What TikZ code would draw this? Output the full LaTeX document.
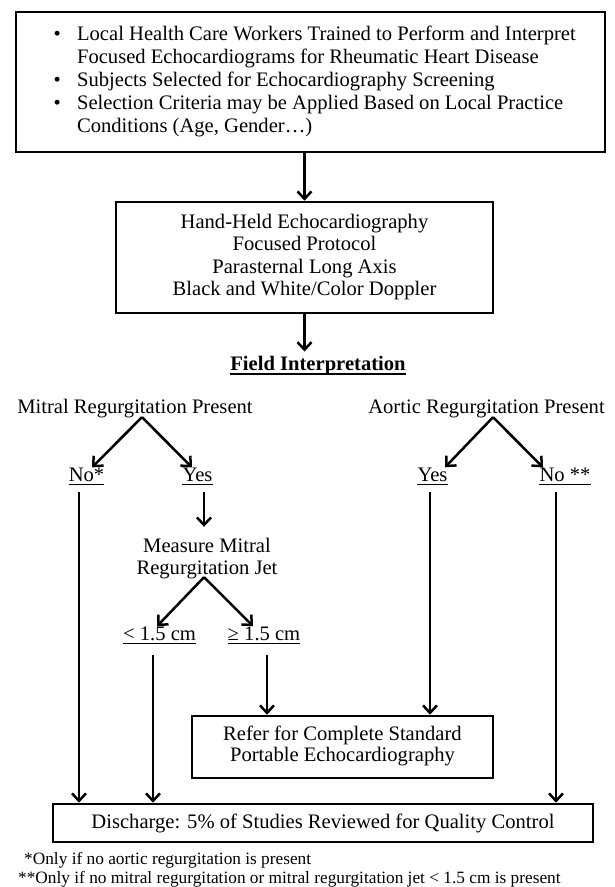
\documentclass[tikz,border=0pt]{standalone}
\usepackage{fontspec}
\setmainfont{Liberation Serif}
\usetikzlibrary{arrows.meta}
\begin{document}
\begin{tikzpicture}[x=1pt,y=-1pt,
  box/.style={draw, line width=2.6pt, inner sep=0pt},
  arr/.style={line width=2.5pt, -{Straight Barb[length=7.5pt,width=14pt]}},
  lab/.style={inner sep=0pt, text depth=0pt, anchor=base},
  ul/.style={line width=1.5pt},
  main/.style={font=\fontsize{20.6}{23.2}\selectfont},
]
\fill[white] (0,0) rectangle (615,887);
\useasboundingbox (0,0) rectangle (615,887);

% top box
\node[box, minimum width=589pt, minimum height=140pt] (top) at (310.5,82) {};
\node[anchor=base west, inner sep=0pt, main] (toptext) at (53.4,40) {\begin{tabular}[t]{@{}l@{}}
\makebox[23.5pt][l]{•}Local Health Care Workers Trained to Perform and Interpret\\
\hspace*{23.5pt}Focused Echocardiograms for Rheumatic Heart Disease\\
\makebox[23.5pt][l]{•}Subjects Selected for Echocardiography Screening\\
\makebox[23.5pt][l]{•}Selection Criteria may be Applied Based on Local Practice\\
\hspace*{23.5pt}Conditions (Age, Gender…)
\end{tabular}};

% second box
\node[box, minimum width=377pt, minimum height=111pt, font=\fontsize{20.6}{22.5}\selectfont] (hand) at (304.5,257.5)
  {\begin{tabular}{@{}c@{}}Hand-Held Echocardiography\\Focused Protocol\\Parasternal Long Axis\\Black and White/Color Doppler\end{tabular}};

\draw[arr] (hand.north |- top.south) -- (hand.north);

% field interpretation
\node[lab, font=\fontsize{20.6}{24}\selectfont\bfseries] (field) at (318,370) {Field Interpretation};
\draw[line width=1.8pt] ([yshift=-4pt]field.base west) -- ([yshift=-4pt]field.base east);
\draw[arr, shorten >=4pt] (hand.south) -- (hand.south |- field.north);

% question labels
\node[lab, main] (mitral) at (135,413) {Mitral Regurgitation Present};
\node[lab, main] (aortic) at (486.5,413) {Aortic Regurgitation Present};

\node[lab, main] (mno) at (86.5,481) {No*};
\node[lab, main] (myes) at (197.5,481) {Yes};
\node[lab, main] (ayes) at (432.5,481) {Yes};
\node[lab, main] (ano) at (565,481) {No **};

\draw[arr] ([xshift=7pt,yshift=-4pt]mitral.south) -- ([xshift=5.5pt]mno.north);
\draw[arr] ([xshift=7pt,yshift=-4pt]mitral.south) -- ([xshift=-5.5pt]myes.north);
\draw[arr] ([xshift=6.5pt,yshift=-4pt]aortic.south) -- ([xshift=12.5pt]ayes.north);
\draw[arr] ([xshift=6.5pt,yshift=-4pt]aortic.south) -- ([xshift=-22pt]ano.north);

% measure
\node[anchor=base, inner sep=0pt, font=\fontsize{20.6}{22}\selectfont] (measure) at (207,552)
  {\begin{tabular}[t]{@{}c@{}}Measure Mitral\\Regurgitation Jet\end{tabular}};

\node[lab, main] (lt) at (159.5,640) {< 1.5 cm};
\node[lab, main] (ge) at (264,640) {≥ 1.5 cm};

\foreach \n in {mno,myes,ayes,ano,lt,ge}
  \draw[ul] ([yshift=-3.5pt]\n.base west) -- ([yshift=-3.5pt]\n.base east);

\draw[arr] ([xshift=-3pt,yshift=3.6pt]measure.south) -- ([xshift=-2.5pt]lt.north);
\draw[arr] ([xshift=-3pt,yshift=3.6pt]measure.south) -- ([xshift=-11pt]ge.north);

% refer and discharge boxes
\node[box, minimum width=301pt, minimum height=62pt, font=\fontsize{20.6}{21}\selectfont] (refer) at (342.5,747)
  {\begin{tabular}{@{}c@{}}Refer for Complete Standard\\Portable Echocardiography\end{tabular}};
\node[box, minimum width=540pt, minimum height=38pt, main] (disc) at (323,823)
  {Discharge: 5\% of Studies Reviewed for Quality Control};

% vertical connectors
\coordinate (mnoS) at ([xshift=-7.5pt,yshift=-11pt]mno.south);
\coordinate (myesS) at ([xshift=6.5pt,yshift=-11pt]myes.south);
\coordinate (ayesS) at ([xshift=-2.5pt,yshift=-11pt]ayes.south);
\coordinate (anoS) at ([xshift=-9pt,yshift=-11pt]ano.south);
\coordinate (ltS) at ([xshift=-6.5pt,yshift=-15pt]lt.south);
\coordinate (geS) at ([xshift=3pt,yshift=-15pt]ge.south);

\draw[arr] (mnoS) -- (mnoS |- disc.north);
\draw[arr, shorten >=9.6pt] (myesS) -- (myesS |- measure.north);
\draw[arr] (ayesS) -- (ayesS |- refer.north);
\draw[arr] (anoS) -- (anoS |- disc.north);
\draw[arr] (ltS) -- (ltS |- disc.north);
\draw[arr] (geS) -- (geS |- refer.north);

% footnotes
\node[anchor=base west, inner sep=0pt, font=\fontsize{17.3}{19}\selectfont] (fn1) at (24,864)
  {*Only if no aortic regurgitation is present};
\node[anchor=base west, inner sep=0pt, font=\fontsize{17.3}{19}\selectfont] (fn2) at (18,883)
  {**Only if no mitral regurgitation or mitral regurgitation jet < 1.5 cm is present};
\end{tikzpicture}
\end{document}
